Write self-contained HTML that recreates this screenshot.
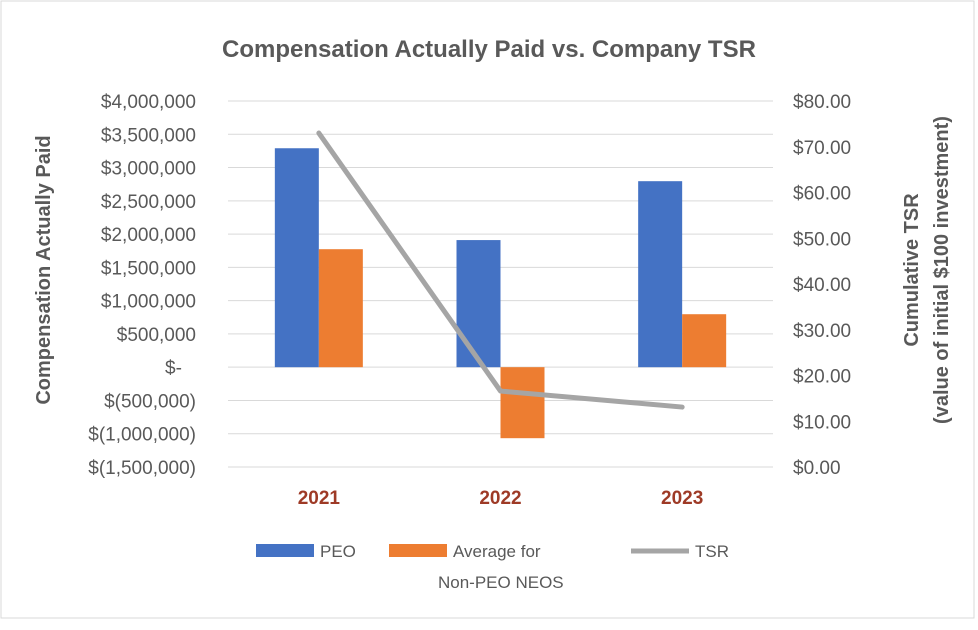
<!DOCTYPE html>
<html><head><meta charset="utf-8"><style>
body{margin:0;background:#fff;}
svg{display:block;font-family:"Liberation Sans",sans-serif;}
</style></head><body>
<svg id="chart" width="978" height="630">
<rect x="1" y="1" width="973" height="617" fill="#fff" stroke="#d9d9d9"/>
<text x="489" y="57" text-anchor="middle" font-size="24" font-weight="bold" fill="#595959">Compensation Actually Paid vs. Company TSR</text>
<g id="grid"></g><g id="bars"></g><g id="line"></g><g id="axes"></g>
<text transform="translate(50,270) rotate(-90)" text-anchor="middle" font-size="20" font-weight="bold" fill="#595959">Compensation Actually Paid</text>
<text transform="translate(918,270) rotate(-90)" text-anchor="middle" font-size="20" font-weight="bold" fill="#595959">Cumulative TSR</text>
<text transform="translate(948,270) rotate(-90)" text-anchor="middle" font-size="20" font-weight="bold" fill="#595959">(value of initial $100 investment)</text>
<g>
<rect x="256" y="544" width="58" height="13" fill="#4472c4"/>
<text x="320" y="557" font-size="17" fill="#595959">PEO</text>
<rect x="389" y="544" width="58" height="13" fill="#ed7d31"/>
<text x="453" y="557" font-size="17" fill="#595959">Average for</text>
<text x="438" y="588" font-size="17" fill="#595959">Non-PEO NEOS</text>
<line x1="631" y1="551" x2="689" y2="551" stroke="#a5a5a5" stroke-width="5"/>
<text x="695" y="557" font-size="17" fill="#595959">TSR</text>
</g>
</svg>
<script>
const categories=["2021","2022","2023"];
const peoValues=[3290000,1910000,2795000];
const neoValues=[1773000,-1067000,796000];
const tsrValues=[73.0,16.6,13.1];
const leftTicks=[4000000,3500000,3000000,2500000,2000000,1500000,1000000,500000,0,-500000,-1000000,-1500000];
const rightTicks=[80,70,60,50,40,30,20,10,0];
const NS="http://www.w3.org/2000/svg";
const X0=228,X1=773,YT=101,YB=467;
const yL=v=>YT+(4000000-v)/5500000*(YB-YT);
const yR=v=>YT+(80-v)/80*(YB-YT);
const bandW=(X1-X0)/categories.length;
const xC=i=>X0+bandW*(i+0.5);
function mk(tag,attrs,parent){const e=document.createElementNS(NS,tag);for(const k in attrs)e.setAttribute(k,attrs[k]);document.getElementById(parent).appendChild(e);return e;}
function fmt(v){if(v===0)return "$-";const s=Math.abs(v).toLocaleString("en-US");return v<0?"$("+s+")":"$"+s;}
leftTicks.forEach(v=>{
  const g=mk("line",{x1:X0,x2:X1,y1:yL(v),y2:yL(v),stroke:"#d9d9d9","stroke-width":1},"grid");
  
  
  const t=mk("text",{x:v===0?165:196,y:yL(v)+7,"text-anchor":v===0?"start":"end","font-size":"19",fill:"#595959"},"axes");
  t.textContent=fmt(v);
  
  
});
rightTicks.forEach(v=>{
  const t=mk("text",{x:793,y:yR(v)+7,"font-size":"19",fill:"#595959"},"axes");
  t.textContent="$"+v.toFixed(2);
  
  
});
const bw=44;
categories.forEach((c,i)=>{
  const p=peoValues[i],n=neoValues[i];
  const b1=mk("rect",{x:xC(i)-bw,y:Math.min(yL(p),yL(0)),width:bw,height:Math.abs(yL(p)-yL(0)),fill:"#4472c4"},"bars");
  
  
  const b2=mk("rect",{x:xC(i),y:Math.min(yL(n),yL(0)),width:bw,height:Math.abs(yL(n)-yL(0)),fill:"#ed7d31"},"bars");
  
  
  const t=mk("text",{x:xC(i),y:504,"text-anchor":"middle","font-size":"19","font-weight":"bold",fill:"#9e3a26"},"axes");
  t.textContent=c;
  
  
});
const pl=mk("polyline",{points:tsrValues.map((v,i)=>xC(i)+","+yR(v)).join(" "),fill:"none",stroke:"#a5a5a5","stroke-width":5,"stroke-linejoin":"round","stroke-linecap":"round"},"line");


</script>
</body></html>
